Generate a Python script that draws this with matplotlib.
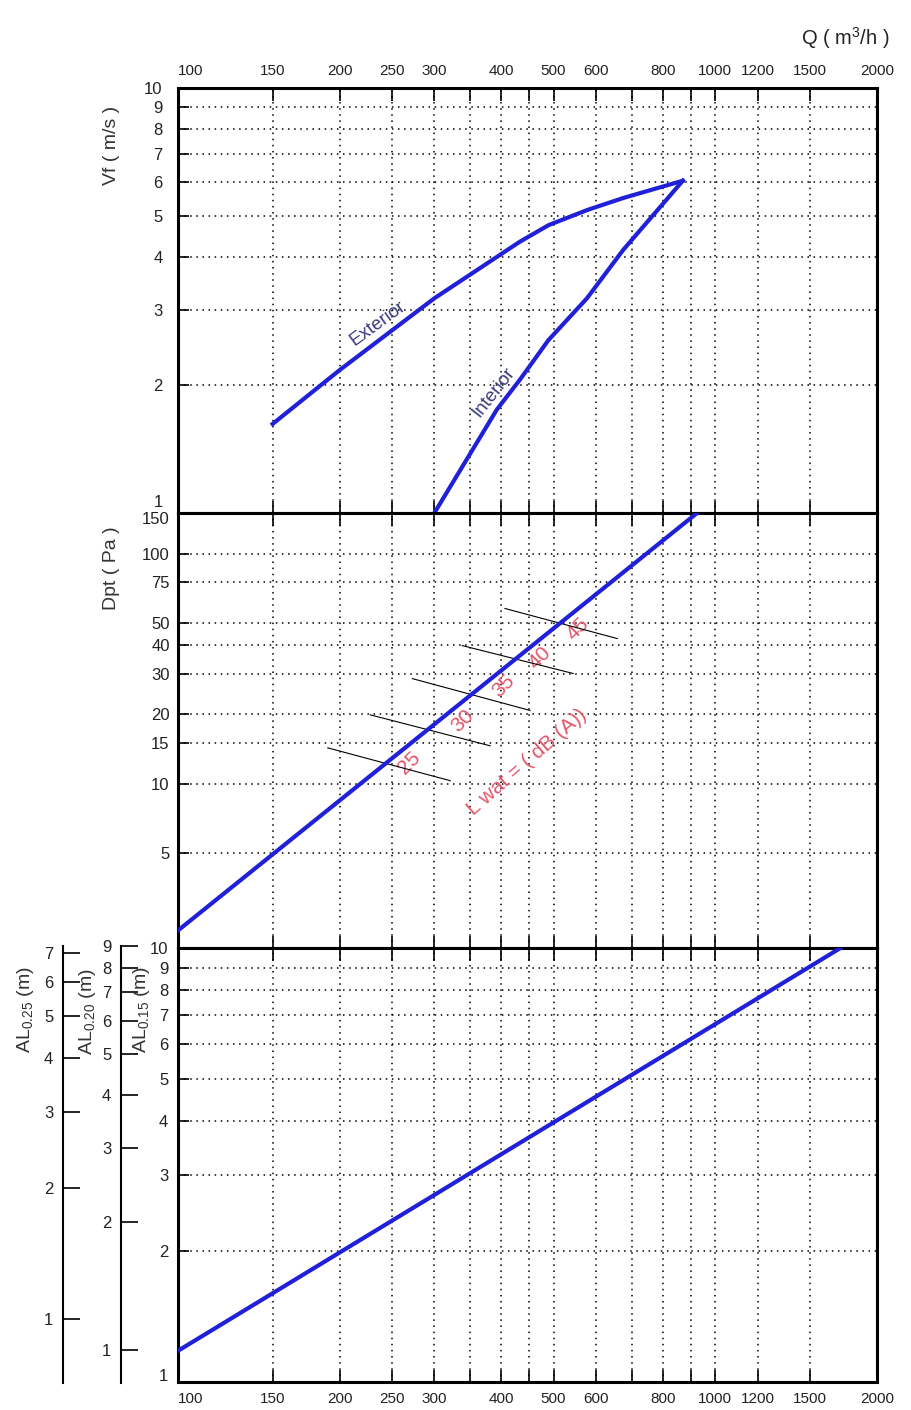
import matplotlib
matplotlib.use('Agg')
import matplotlib.pyplot as plt
from matplotlib.ticker import NullLocator
from matplotlib.transforms import ScaledTranslation

plt.rcParams['font.family'] = ['Liberation Sans', 'DejaVu Sans']
plt.rcParams['mathtext.default'] = 'regular'

# flow axis Q (m3/h)
q_ticks = [100, 150, 200, 250, 300, 350, 400, 450, 500, 600, 700, 800, 900, 1000, 1200, 1500, 2000]
q_labels = ['100', '150', '200', '250', '300', '', '400', '', '500', '600', '', '800', '', '1000', '1200', '1500', '2000']

# top panel: velocity Vf (m/s)
vf_ticks = [1, 2, 3, 4, 5, 6, 7, 8, 9, 10]
ext_q = [150, 200, 300, 433, 490, 577, 674, 870]
ext_vf = [1.62, 2.17, 3.2, 4.35, 4.76, 5.16, 5.51, 6.05]
int_q = [300, 392, 433, 489, 577, 674, 870]
int_vf = [1.0, 1.75, 2.06, 2.55, 3.2, 4.16, 6.05]

# middle panel: pressure drop Dpt (Pa)
dpt_ticks = [5, 10, 15, 20, 30, 40, 50, 75, 100, 150]
dpt_q = [100, 925]
dpt_val = [2.3, 150]
lw_levels = ['25', '30', '35', '40', '45']
lw_q = [[190, 321], [228, 381], [273, 452], [338, 544], [406, 657]]
lw_dpt = [[14.3, 10.3], [19.9, 14.6], [28.6, 20.8], [39.8, 30.1], [57.7, 42.7]]
lw_lab_q = [270, 338, 403, 472, 556]
lw_lab_dpt = [12.3, 18.8, 26.7, 35.3, 47.2]

# bottom panel: throw AL (m)
al_q = [100, 1710]
al_val = [1.18, 10]
al15_ticks = [1, 2, 3, 4, 5, 6, 7, 8, 9, 10]
al20_ticks = [1, 2, 3, 4, 5, 6, 7, 8, 9]
al25_ticks = [1, 2, 3, 4, 5, 6, 7]

W, H = 911, 1410
blue = '#2020d8'
red = '#e2566a'
txt = '#222222'

fig = plt.figure(figsize=(W / 100, H / 100), dpi=100)


def px_box(x0, y0, x1, y1):
    return [x0 / W, 1 - y1 / H, (x1 - x0) / W, (y1 - y0) / H]


def setup(ax, ylim, yticks, ypad):
    ax.set_xscale('log')
    ax.set_yscale('log')
    ax.set_xlim(100, 2000)
    ax.set_ylim(*ylim)
    ax.set_xticks(q_ticks)
    ax.set_xticklabels(q_labels)
    ax.set_yticks(yticks)
    ax.set_yticklabels([str(v) for v in yticks])
    ax.xaxis.set_minor_locator(NullLocator())
    ax.yaxis.set_minor_locator(NullLocator())
    ax.grid(True, which='major', color='k', linestyle=(0, (1, 3)), linewidth=1.1)
    ax.tick_params(axis='x', which='major', direction='in', length=9, width=1.2,
                   top=True, bottom=True, labeltop=False, labelbottom=False,
                   labelsize=11, labelcolor=txt, pad=7)
    ax.tick_params(axis='y', which='major', direction='in', length=8, width=1.2,
                   labelsize=12, labelcolor=txt, pad=ypad)
    for s in ax.spines.values():
        s.set_linewidth(2.2)


def shift_label(ax, text, dy_px):
    for lab in ax.get_yticklabels():
        if lab.get_text() == text:
            lab.set_transform(lab.get_transform() +
                              ScaledTranslation(0, dy_px / 100, fig.dpi_scale_trans))


ax1 = fig.add_axes(px_box(178, 88, 877, 513))
ax2 = fig.add_axes(px_box(178, 513, 877, 948))
ax3 = fig.add_axes(px_box(178, 948, 877, 1382))

setup(ax1, (1, 10), vf_ticks, 11)
setup(ax2, (1.93, 150), dpt_ticks, 6)
setup(ax3, (1, 10), al15_ticks, 7)
ax1.tick_params(axis='x', labeltop=True)
ax3.tick_params(axis='x', labelbottom=True)
for ax in (ax1, ax3):
    for lab in ax.get_xticklabels():
        if lab.get_text() == '100':
            lab.set_horizontalalignment('left')
shift_label(ax1, '1', 12)
shift_label(ax2, '150', -5)
shift_label(ax3, '1', 7)

# top panel
ax1.plot(ext_q, ext_vf, color=blue, lw=3, zorder=5)
ax1.plot(int_q, int_vf, color=blue, lw=3, zorder=5)
ax1.text(236, 2.8, 'Exterior', rotation=36, color='#3a3a80', fontsize=13.5,
         ha='center', va='center')
ax1.text(386, 1.92, 'Interior', rotation=52, color='#3a3a80', fontsize=13.5,
         ha='center', va='center')

# middle panel
ax2.plot(dpt_q, dpt_val, color=blue, lw=3, zorder=5)
for lev, qq, dd, lq, ld in zip(lw_levels, lw_q, lw_dpt, lw_lab_q, lw_lab_dpt):
    ax2.plot(qq, dd, color='k', lw=0.8, zorder=4)
    ax2.text(lq, ld, lev, rotation=45, color=red, fontsize=15, ha='center', va='center')
ax2.text(447, 12.4, 'L wat = ( dB (A))', rotation=41, color=red, fontsize=15,
         ha='center', va='center')

# bottom panel
ax3.plot(al_q, al_val, color=blue, lw=3, zorder=5)

# extra throw scales on the left
for xpos, ylim, ticks in [(121, (0.835, 9.0), al20_ticks), (63, (0.71, 7.25), al25_ticks)]:
    axs = fig.add_axes(px_box(xpos, 946, xpos + 1, 1383))
    axs.patch.set_visible(False)
    axs.set_yscale('log')
    axs.set_ylim(*ylim)
    axs.set_yticks(ticks)
    axs.set_yticklabels([str(v) for v in ticks])
    axs.yaxis.set_minor_locator(NullLocator())
    axs.set_xticks([])
    for side in ('top', 'right', 'bottom'):
        axs.spines[side].set_visible(False)
    axs.spines['left'].set_linewidth(1.5)
    axs.tick_params(axis='y', direction='in', length=12, width=1.2,
                    labelsize=12, labelcolor=txt, pad=7)

# axis titles
fig.text(112 / W, 1 - 145 / H, 'Vf ( m/s )', rotation=90, fontsize=14, color='#333333',
         ha='center', va='center')
fig.text(112 / W, 1 - 568 / H, 'Dpt ( Pa )', rotation=90, fontsize=14, color='#333333',
         ha='center', va='center')
fig.text(26 / W, 1 - 1010 / H, 'AL$_{0.25}$ (m)', rotation=90, fontsize=14, color='#333333',
         ha='center', va='center')
fig.text(88 / W, 1 - 1012 / H, 'AL$_{0.20}$ (m)', rotation=90, fontsize=14, color='#333333',
         ha='center', va='center')
fig.text(141 / W, 1 - 1010 / H, 'AL$_{0.15}$ (m)', rotation=90, fontsize=14, color='#333333',
         ha='center', va='center')
fig.text(845 / W, 1 - 38 / H, 'Q ( m$^3$/h )', fontsize=14.5, color=txt,
         ha='center', va='center')

fig.savefig('out.png', dpi=100)
